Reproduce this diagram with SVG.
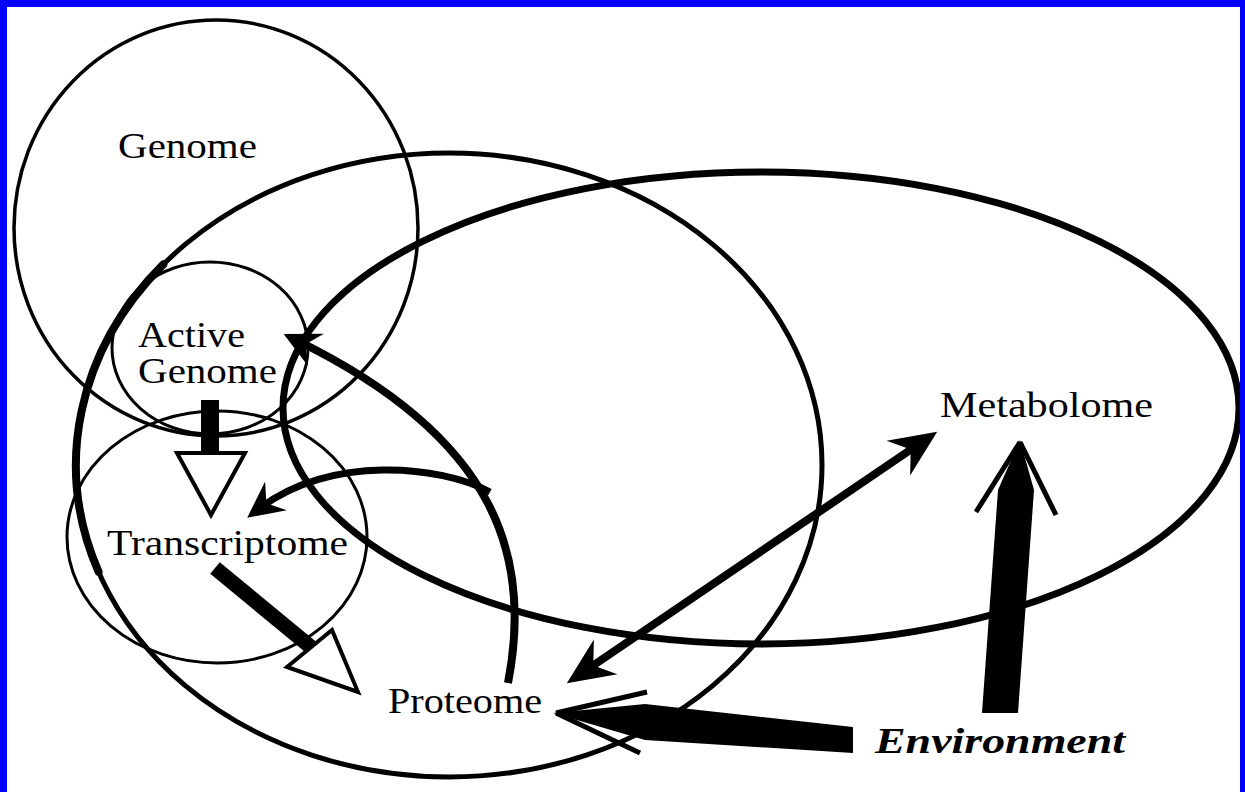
<svg xmlns="http://www.w3.org/2000/svg" width="1245" height="792" viewBox="0 0 1245 792">
  <style>
    .ring { fill: none; stroke: #000; }
    .lbl { font-family: "Liberation Serif", "Times New Roman", serif; font-size: 35px; fill: #000; }
    .env { font-weight: bold; font-style: italic; }
    .flow { fill: none; stroke: #000; }
    .hollow { fill: #fff; stroke: #000; stroke-width: 4; stroke-linejoin: miter; }
    .solid { fill: #000; stroke: none; }
    .barb { stroke: #000; stroke-width: 5; fill: none; }
  </style>
  <defs>
    <marker id="headL" markerUnits="userSpaceOnUse" markerWidth="70" markerHeight="70" viewBox="-35 -35 70 70" refX="0" refY="0" orient="auto-start-reverse">
      <path d="M22,0 L-25,-21 L-10,0 L-25,21 Z" fill="#000"/>
    </marker>
    <marker id="headS" markerUnits="userSpaceOnUse" markerWidth="60" markerHeight="60" viewBox="-30 -30 60 60" refX="0" refY="0" orient="auto">
      <path d="M16,0 L-20,-18 L-8,0 L-20,18 Z" fill="#000"/>
    </marker>
  </defs>

  <rect x="0" y="0" width="1245" height="792" fill="#fff"/>

  <g id="genome">
    <ellipse class="ring" cx="216" cy="228" rx="202" ry="208" stroke-width="3.5"/>
    <text class="lbl" x="118" y="158" textLength="139" lengthAdjust="spacingAndGlyphs">Genome</text>
  </g>

  <g id="proteome">
    <ellipse class="ring" cx="449" cy="465" rx="373" ry="312" stroke-width="5"/>
    <path class="ring" d="M163.3,264.4 A373,312 0 0 0 98.5,571.7" stroke-width="8" stroke-linecap="round"/>
    <text class="lbl" x="388" y="713" textLength="154" lengthAdjust="spacingAndGlyphs">Proteome</text>
  </g>

  <g id="metabolome">
    <ellipse class="ring" cx="761" cy="408" rx="478" ry="236" stroke-width="7"/>
    <text class="lbl" x="940" y="417" textLength="213" lengthAdjust="spacingAndGlyphs">Metabolome</text>
  </g>

  <g id="active-genome">
    <ellipse class="ring" cx="210" cy="348" rx="98" ry="86" stroke-width="3"/>
    <text class="lbl" x="138" y="347" textLength="107" lengthAdjust="spacingAndGlyphs">Active</text>
    <text class="lbl" x="138" y="383" textLength="139" lengthAdjust="spacingAndGlyphs">Genome</text>
  </g>

  <g id="transcriptome">
    <ellipse class="ring" cx="217" cy="537" rx="150" ry="126" stroke-width="3"/>
    <text class="lbl" x="107" y="555" textLength="241" lengthAdjust="spacingAndGlyphs">Transcriptome</text>
  </g>

  <g id="environment">
    <text class="lbl env" x="875" y="753" textLength="250" lengthAdjust="spacingAndGlyphs">Environment</text>
  </g>

  <g id="connectors">
    <!-- Active Genome -> Transcriptome -->
    <rect x="201" y="400" width="18" height="54" fill="#000"/>
    <polygon class="hollow" points="177,453 245,453 211,515"/>
    <!-- Transcriptome -> Proteome -->
    <line x1="215" y1="568" x2="312" y2="648" stroke="#000" stroke-width="15"/>
    <polygon class="hollow" points="287,667 332,630 358,692"/>
    <!-- Proteome -> Active Genome (curved) -->
    <path class="flow" d="M508,683 C532,560 500,440 298,341" stroke-width="8" marker-end="url(#headS)"/>
    <!-- feedback to Transcriptome (curved) -->
    <path class="flow" d="M490,492 C440,465 330,455 260,508" stroke-width="7" marker-end="url(#headS)"/>
    <!-- Proteome <-> Metabolome -->
    <line x1="585" y1="671" x2="919" y2="444" stroke="#000" stroke-width="8" marker-start="url(#headL)" marker-end="url(#headL)"/>
    <!-- Environment -> Proteome -->
    <polygon class="solid" points="553,713 645,704 853,727 853,753 645,740"/>
    <line class="barb" x1="556" y1="713" x2="647" y2="692"/>
    <line class="barb" x1="556" y1="713" x2="640" y2="753"/>
    <!-- Environment -> Metabolome -->
    <polygon class="solid" points="982,713 1018,713 1034,490 1020,440 998,490"/>
    <line class="barb" x1="1020" y1="442" x2="976" y2="512"/>
    <line class="barb" x1="1020" y1="442" x2="1056" y2="515"/>
  </g>

  <path d="M0,0 H1245 V792 H0 Z M7,7 V792 H1240 V7 Z" fill="#0000ff" fill-rule="evenodd"/>
</svg>
